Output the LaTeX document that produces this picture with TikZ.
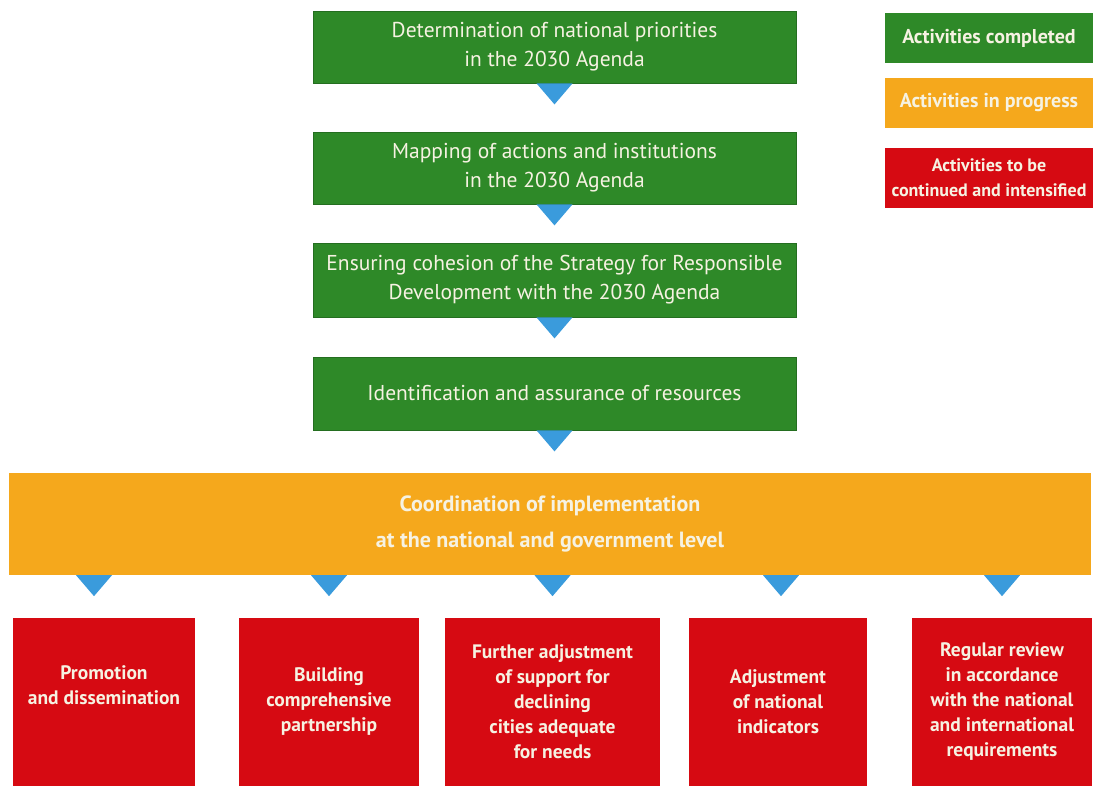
\documentclass[tikz,border=0pt]{standalone}
\usepackage{fontspec}
\setmainfont{PT Sans}
\definecolor{donegreen}{RGB}{46,137,40}
\definecolor{doneedge}{RGB}{36,110,32}
\definecolor{progorange}{RGB}{245,168,28}
\definecolor{todored}{RGB}{214,10,18}
\definecolor{tricolor}{RGB}{58,155,220}
\definecolor{boxtext}{RGB}{246,242,226}
\tikzset{
  stagebox/.style={inner sep=0pt,align=center,text=boxtext},
  greenbox/.style={stagebox,fill=donegreen,draw=doneedge,line width=.8pt,minimum width=483pt,font=\fontsize{21.5}{29}\selectfont},
  orangebox/.style={stagebox,fill=progorange,minimum width=1082pt,minimum height=102pt,font=\bfseries\fontsize{22}{36}\selectfont},
  redbox/.style={stagebox,fill=todored,minimum height=168pt,font=\bfseries\fontsize{19.5}{25}\selectfont},
  keybox/.style={stagebox,minimum width=208pt,font=\bfseries\fontsize{20}{22}\selectfont},
  tri/.style={fill=tricolor}
}
\begin{document}
\begin{tikzpicture}[x=1pt,y=-1pt]
\useasboundingbox (0,0) rectangle (1093,787);
\def\tw{18}
\def\th{21}
% upper column
\node[greenbox,minimum height=72pt] (g1) at (554.5,47) {Determination of national priorities\\in the 2030 Agenda};
\node[greenbox,minimum height=72pt] (g2) at (554.5,168) {Mapping of actions and institutions\\in the 2030 Agenda};
\node[greenbox,minimum height=74pt] (g3) at (554.5,280) {Ensuring cohesion of the Strategy for Responsible\\Development with the 2030 Agenda};
\node[greenbox,minimum height=73pt] (g4) at (554.5,393.5) {Identification and assurance of resources};
% legend
\node[keybox,fill=donegreen,minimum height=50pt] (k1) at (989,38) {Activities completed};
\node[keybox,fill=progorange,minimum height=50pt] (k2) at (989,103) {Activities in progress};
\node[keybox,fill=todored,minimum height=60pt,font=\bfseries\fontsize{18}{25}\selectfont] (k3) at (989,178) {Activities to be\\continued and intensified};
% coordination
\node[orangebox] (co) at (550,524) {Coordination of implementation\\at the national and government level};
% bottom row
\node[redbox,minimum width=182pt] (r1) at (104,702) {Promotion\\and dissemination\\[8pt]};
\node[redbox,minimum width=180pt] (r2) at (329,702) {Building\\comprehensive\\partnership};
\node[redbox,minimum width=215pt] (r3) at (552.5,702) {Further adjustment\\of support for\\declining\\cities adequate\\for needs};
\node[redbox,minimum width=178pt] (r4) at (778,702) {Adjustment\\of national\\indicators};
\node[redbox,minimum width=180pt] (r5) at (1002,702) {Regular review\\in accordance\\with the national\\and international\\requirements};
% arrows
\fill[tri] (g1.south) ++(-\tw,0) -- ++(2*\tw,0) -- ++(-\tw,\th) -- cycle;
\fill[tri] (g2.south) ++(-\tw,0) -- ++(2*\tw,0) -- ++(-\tw,\th) -- cycle;
\fill[tri] (g3.south) ++(-\tw,0) -- ++(2*\tw,0) -- ++(-\tw,\th) -- cycle;
\fill[tri] (g4.south) ++(-\tw,0) -- ++(2*\tw,0) -- ++(-\tw,\th) -- cycle;
\fill[tri] (r1.north |- co.south) ++(-10-\tw,0) -- ++(2*\tw,0) -- ++(-\tw,\th) -- cycle;
\fill[tri] (r2.north |- co.south) ++(-\tw,0) -- ++(2*\tw,0) -- ++(-\tw,\th) -- cycle;
\fill[tri] (r3.north |- co.south) ++(-\tw,0) -- ++(2*\tw,0) -- ++(-\tw,\th) -- cycle;
\fill[tri] (r4.north |- co.south) ++(3-\tw,0) -- ++(2*\tw,0) -- ++(-\tw,\th) -- cycle;
\fill[tri] (r5.north |- co.south) ++(-\tw,0) -- ++(2*\tw,0) -- ++(-\tw,\th) -- cycle;
\end{tikzpicture}
\end{document}
